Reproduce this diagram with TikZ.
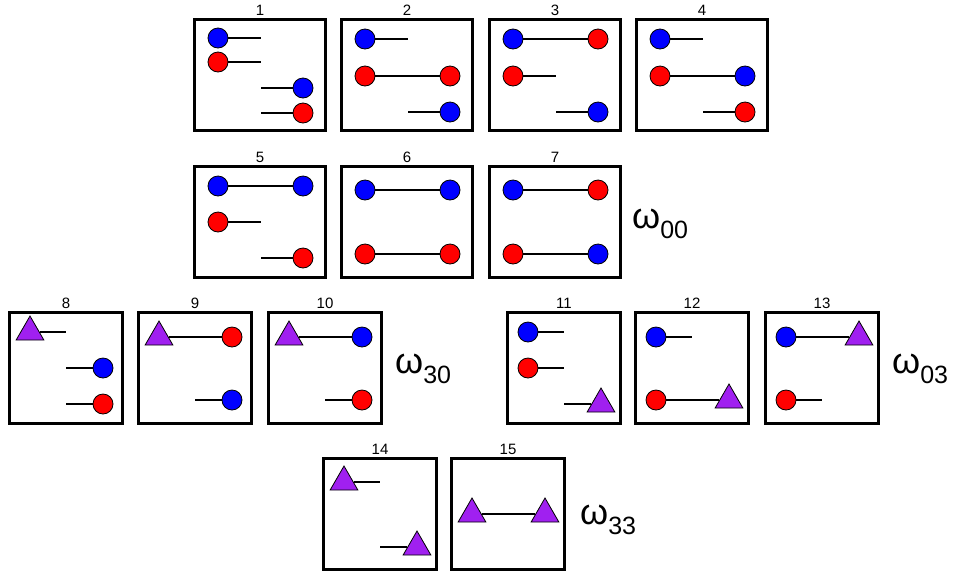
\documentclass[tikz,border=0pt]{standalone}
\usepackage{fontspec}
\setmainfont{Liberation Sans}
\usetikzlibrary{shapes.geometric}
\definecolor{tripurple}{RGB}{160,32,240}
\newcommand{\omsub}[1]{ω\raisebox{-10pt}{\fontsize{25}{25}\selectfont #1}}

\begin{document}
\begin{tikzpicture}[x=1pt, y=-1pt,
  frame/.style={draw=black, line width=3pt},
  bdot/.style={circle, draw=black, line width=0.8pt, fill=blue, inner sep=0pt, minimum size=20pt},
  rdot/.style={bdot, fill=red},
  tri/.style={regular polygon, regular polygon sides=3, draw=black, line width=0.8pt, fill=tripurple, inner sep=0pt, minimum size=32pt},
  bond/.style={line width=1.5pt, black},
  num/.style={font=\fontsize{15}{15}\selectfont, inner sep=0pt},
  omlbl/.style={anchor=base west, inner sep=0pt, font=\fontsize{36}{36}\selectfont}]

\useasboundingbox (0,0) rectangle (958,574);

% row 1
\begin{scope}[shift={(193,18)}]
  \draw[frame] (1.5,1.5) rectangle (132.5,112.5);
  \node[num] (n) at (67,-8) {1};
  \node[bdot] (a) at (25,20) {};  \coordinate (sa) at (68,20);
  \node[rdot] (b) at (25,44) {};  \coordinate (sb) at (68,44);
  \node[bdot] (c) at (110,70) {}; \coordinate (sc) at (68,70);
  \node[rdot] (d) at (110,95) {}; \coordinate (sd) at (68,95);
  \foreach \i/\j in {a/sa,b/sb,c/sc,d/sd} {\draw[bond] (\i) -- (\j);}
\end{scope}

\begin{scope}[shift={(340,18)}]
  \draw[frame] (1.5,1.5) rectangle (132.5,112.5);
  \node[num] (n) at (67,-8) {2};
  \node[bdot] (a) at (25,21) {};  \coordinate (sa) at (68,21);
  \node[rdot] (b) at (25,58) {};  \node[rdot] (c) at (110,58) {};
  \node[bdot] (d) at (110,94) {}; \coordinate (sd) at (68,94);
  \foreach \i/\j in {a/sa,b/c,d/sd} {\draw[bond] (\i) -- (\j);}
\end{scope}

\begin{scope}[shift={(488,18)}]
  \draw[frame] (1.5,1.5) rectangle (132.5,112.5);
  \node[num] (n) at (67,-8) {3};
  \node[bdot] (a) at (25,21) {};  \node[rdot] (c) at (110,21) {};
  \node[rdot] (b) at (25,58) {};  \coordinate (sb) at (68,58);
  \node[bdot] (d) at (110,94) {}; \coordinate (sd) at (68,94);
  \foreach \i/\j in {a/c,b/sb,d/sd} {\draw[bond] (\i) -- (\j);}
\end{scope}

\begin{scope}[shift={(635,18)}]
  \draw[frame] (1.5,1.5) rectangle (132.5,112.5);
  \node[num] (n) at (67,-8) {4};
  \node[bdot] (a) at (25,21) {};  \coordinate (sa) at (68,21);
  \node[rdot] (b) at (25,58) {};  \node[bdot] (c) at (110,58) {};
  \node[rdot] (d) at (110,94) {}; \coordinate (sd) at (68,94);
  \foreach \i/\j in {a/sa,b/c,d/sd} {\draw[bond] (\i) -- (\j);}
\end{scope}

% row 2
\begin{scope}[shift={(193,165)}]
  \draw[frame] (1.5,1.5) rectangle (132.5,112.5);
  \node[num] (n) at (67,-8) {5};
  \node[bdot] (a) at (25,21) {};  \node[bdot] (c) at (110,21) {};
  \node[rdot] (b) at (25,57) {};  \coordinate (sb) at (68,57);
  \node[rdot] (d) at (110,93) {}; \coordinate (sd) at (68,93);
  \foreach \i/\j in {a/c,b/sb,d/sd} {\draw[bond] (\i) -- (\j);}
\end{scope}

\begin{scope}[shift={(340,165)}]
  \draw[frame] (1.5,1.5) rectangle (132.5,112.5);
  \node[num] (n) at (67,-8) {6};
  \node[bdot] (a) at (25,25) {};  \node[bdot] (c) at (110,25) {};
  \node[rdot] (b) at (25,89) {};  \node[rdot] (d) at (110,89) {};
  \foreach \i/\j in {a/c,b/d} {\draw[bond] (\i) -- (\j);}
\end{scope}

\begin{scope}[shift={(488,165)}]
  \draw[frame] (1.5,1.5) rectangle (132.5,112.5);
  \node[num] (n) at (67,-8) {7};
  \node[bdot] (a) at (25,25) {};  \node[rdot] (c) at (110,25) {};
  \node[rdot] (b) at (25,89) {};  \node[bdot] (d) at (110,89) {};
  \foreach \i/\j in {a/c,b/d} {\draw[bond] (\i) -- (\j);}
\end{scope}

\node[omlbl] (w00) at (632,228) {\omsub{00}};

% row 3
\begin{scope}[shift={(8,311)}]
  \draw[frame] (1.5,1.5) rectangle (114.5,112.5);
  \node[num] (n) at (58,-8) {8};
  \node[tri] (a) at (22,21) {};   \coordinate (sa) at (58,21);
  \node[bdot] (c) at (95,57) {};  \coordinate (sc) at (58,57);
  \node[rdot] (d) at (95,93) {};  \coordinate (sd) at (58,93);
  \foreach \i/\j in {a/sa,c/sc,d/sd} {\draw[bond] (\i) -- (\j);}
\end{scope}

\begin{scope}[shift={(137,311)}]
  \draw[frame] (1.5,1.5) rectangle (114.5,112.5);
  \node[num] (n) at (58,-8) {9};
  \node[tri] (a) at (22,26) {};   \node[rdot] (c) at (95,26) {};
  \node[bdot] (d) at (95,89) {};  \coordinate (sd) at (58,89);
  \foreach \i/\j in {a/c,d/sd} {\draw[bond] (\i) -- (\j);}
\end{scope}

\begin{scope}[shift={(267,311)}]
  \draw[frame] (1.5,1.5) rectangle (114.5,112.5);
  \node[num] (n) at (58,-8) {10};
  \node[tri] (a) at (22,26) {};   \node[bdot] (c) at (95,26) {};
  \node[rdot] (d) at (95,89) {};  \coordinate (sd) at (58,89);
  \foreach \i/\j in {a/c,d/sd} {\draw[bond] (\i) -- (\j);}
\end{scope}

\node[omlbl] (w30) at (395,373) {\omsub{30}};

\begin{scope}[shift={(506,311)}]
  \draw[frame] (1.5,1.5) rectangle (114.5,112.5);
  \node[num] (n) at (58,-8) {11};
  \node[bdot] (a) at (22,21) {};  \coordinate (sa) at (58,21);
  \node[rdot] (b) at (22,57) {};  \coordinate (sb) at (58,57);
  \node[tri] (d) at (95,93) {};   \coordinate (sd) at (58,93);
  \foreach \i/\j in {a/sa,b/sb,d/sd} {\draw[bond] (\i) -- (\j);}
\end{scope}

\begin{scope}[shift={(634,311)}]
  \draw[frame] (1.5,1.5) rectangle (114.5,112.5);
  \node[num] (n) at (58,-8) {12};
  \node[bdot] (a) at (22,26) {};  \coordinate (sa) at (58,26);
  \node[rdot] (b) at (22,89) {};  \node[tri] (d) at (95,89) {};
  \foreach \i/\j in {a/sa,b/d} {\draw[bond] (\i) -- (\j);}
\end{scope}

\begin{scope}[shift={(764,311)}]
  \draw[frame] (1.5,1.5) rectangle (114.5,112.5);
  \node[num] (n) at (58,-8) {13};
  \node[bdot] (a) at (22,26) {};  \node[tri] (c) at (95,26) {};
  \node[rdot] (b) at (22,89) {};  \coordinate (sb) at (58,89);
  \foreach \i/\j in {a/c,b/sb} {\draw[bond] (\i) -- (\j);}
\end{scope}

\node[omlbl] (w03) at (892,373) {\omsub{03}};

% row 4
\begin{scope}[shift={(322,457)}]
  \draw[frame] (1.5,1.5) rectangle (114.5,112.5);
  \node[num] (n) at (58,-8) {14};
  \node[tri] (a) at (22,25) {};   \coordinate (sa) at (58,25);
  \node[tri] (d) at (95,90) {};   \coordinate (sd) at (58,90);
  \foreach \i/\j in {a/sa,d/sd} {\draw[bond] (\i) -- (\j);}
\end{scope}

\begin{scope}[shift={(450,457)}]
  \draw[frame] (1.5,1.5) rectangle (114.5,112.5);
  \node[num] (n) at (58,-8) {15};
  \node[tri] (a) at (22,57) {};   \node[tri] (c) at (95,57) {};
  \draw[bond] (a) -- (c);
\end{scope}

\node[omlbl] (w33) at (580,524) {\omsub{33}};

\end{tikzpicture}
\end{document}
